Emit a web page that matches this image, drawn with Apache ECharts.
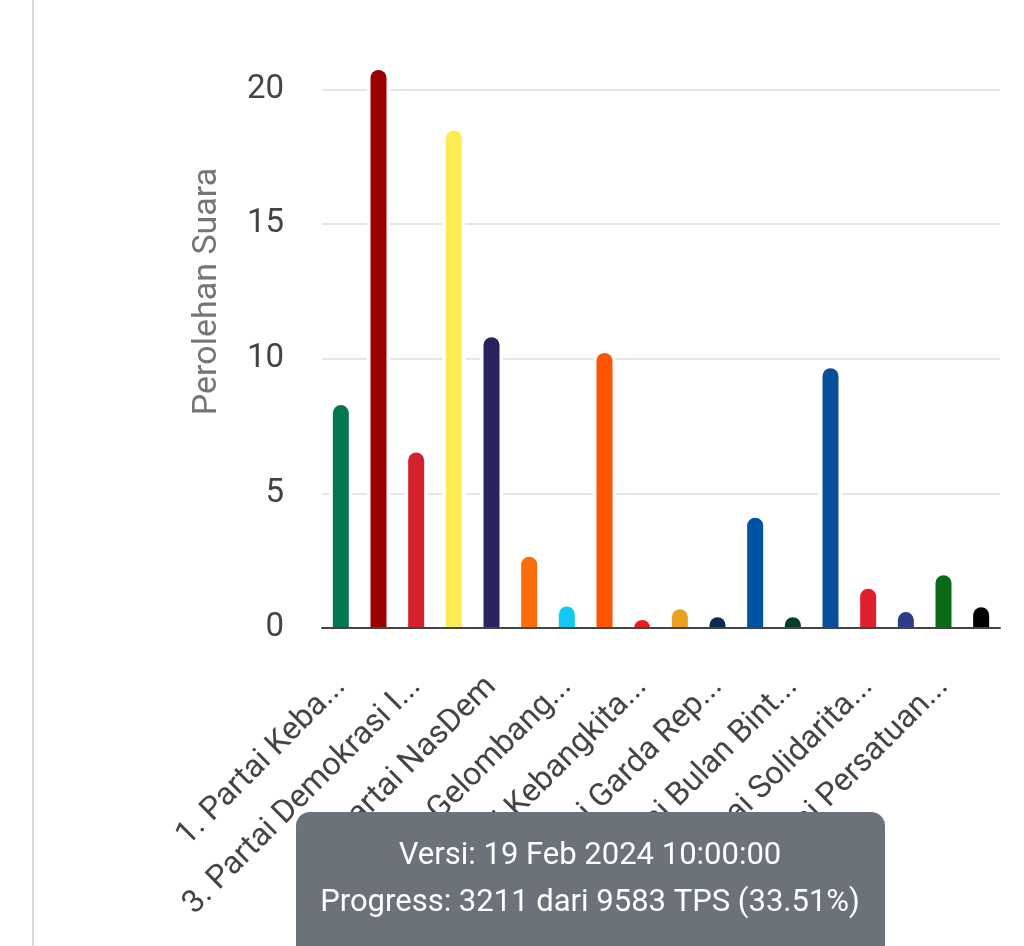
<!DOCTYPE html>
<html>
<head>
<meta charset="utf-8">
<script src="https://cdn.jsdelivr.net/npm/echarts@6/dist/echarts.min.js"></script>
<style>
html,body{margin:0;padding:0;background:#fff;}
#container{width:1024px;height:946px;}
</style>
</head>
<body>
<div id="container"></div>
<script>
// data partai
var categories = [
  '1. Partai Kebangkitan Bangsa', '2. Partai Gerakan Indonesia Raya',
  '3. Partai Demokrasi Indonesia Perjuangan', '4. Partai Golongan Karya',
  '5. Partai NasDem', '6. Partai Buruh', '7. Partai Gelombang Rakyat Indonesia',
  '8. Partai Keadilan Sejahtera', '9. Partai Kebangkitan Nusantara',
  '10. Partai Hati Nurani Rakyat', '11. Partai Garda Republik Indonesia',
  '12. Partai Amanat Nasional', '13. Partai Bulan Bintang', '14. Partai Demokrat',
  '15. Partai Solidaritas Indonesia', '16. Partai Perindo',
  '17. Partai Persatuan Pembangunan', '24. Partai Ummat'
];
var tickLabels = [
  '1. Partai Keba...', '', '3. Partai Demokrasi I...', '', '5. Partai NasDem', '',
  '7. Partai Gelombang...', '', '9. Partai Kebangkita...', '', '11. Partai Garda Rep...', '',
  '13. Partai Bulan Bint...', '', '15. Partai Solidarita...', '', '17. Partai Persatuan...', ''
];
var values = [8.28, 20.73, 6.52, 18.48, 10.8, 2.65, 0.8, 10.22, 0.3, 0.7, 0.4, 4.1, 0.4, 9.65, 1.46, 0.59, 1.96, 0.77];
var colors = ['#04774f', '#9b0000', '#d4212f', '#fdec4f', '#26235e', '#f96d0a', '#14c8f5', '#ff5500', '#e81c1c',
  '#eaa121', '#0b2a4f', '#0052a3', '#073d24', '#0a4f9c', '#e0202f', '#2a3f87', '#0a6b1a', '#000000'];
var yTicks = [0, 5, 10, 15, 20, 25];
var yName = 'Perolehan Suara';
var infoLines = ['Versi: 19 Feb 2024 10:00:00', 'Progress: 3211 dari 9583 TPS (33.51%)'];

var dom = document.getElementById('container');
var myChart = echarts.init(dom);

var barData = [];
for (var i = 0; i < values.length; i++) {
  barData.push({ value: values[i], itemStyle: { color: colors[i] } });
}

myChart.setOption({
  animation: false,
  textStyle: { fontFamily: 'Roboto' },
  grid: { left: 322, right: 24, top: -45, bottom: 318, containLabel: false, outerBoundsMode: 'none' },
  xAxis: [{
    type: 'category',
    data: categories,
    z: 10,
    axisLine: { lineStyle: { color: '#444', width: 2 } },
    axisTick: { show: false },
    axisLabel: {
      interval: 0,
      rotate: 45,
      margin: 54,
      fontSize: 32,
      color: '#444',
      formatter: function (v, idx) { return tickLabels[idx]; }
    }
  }, {
    // sumbu bayangan untuk celah putih di sekitar batang
    type: 'category',
    data: categories,
    show: false
  }],
  yAxis: {
    type: 'value',
    min: yTicks[0],
    max: yTicks[yTicks.length - 1],
    interval: 5,
    name: yName,
    nameLocation: 'middle',
    nameGap: 98,
    nameTextStyle: { fontSize: 34, color: '#757575' },
    axisLine: { show: false },
    axisTick: { show: false },
    axisLabel: { fontSize: 33, color: '#444', margin: 38 },
    splitLine: { lineStyle: { color: '#e6e6e6', width: 2 } }
  },
  series: [{
    type: 'bar',
    xAxisIndex: 1,
    data: values,
    barWidth: 23,
    silent: true,
    z: 1,
    itemStyle: { color: '#fff', borderRadius: [11, 11, 0, 0] }
  }, {
    type: 'bar',
    data: barData,
    barWidth: 16,
    z: 2,
    itemStyle: { borderRadius: [8, 8, 0, 0] }
  }],
  graphic: [
    { type: 'line', z: 100, shape: { x1: 33, y1: 0, x2: 33, y2: 946 }, style: { stroke: '#d9d9d9', lineWidth: 2 } },
    {
      type: 'group', left: 296, top: 812, z: 100,
      children: [
        { type: 'rect', z: 100, shape: { x: 0, y: 0, width: 589, height: 160, r: 14 }, style: { fill: '#6b727a' } },
        { type: 'text', z: 101, x: 294, y: 44, style: { text: infoLines[0], fill: '#fff', font: '31px Roboto', textAlign: 'center', textVerticalAlign: 'middle' } },
        { type: 'text', z: 101, x: 294, y: 91, style: { text: infoLines[1], fill: '#fff', font: '31px Roboto', textAlign: 'center', textVerticalAlign: 'middle' } }
      ]
    }
  ]
});
</script>
</body>
</html>
